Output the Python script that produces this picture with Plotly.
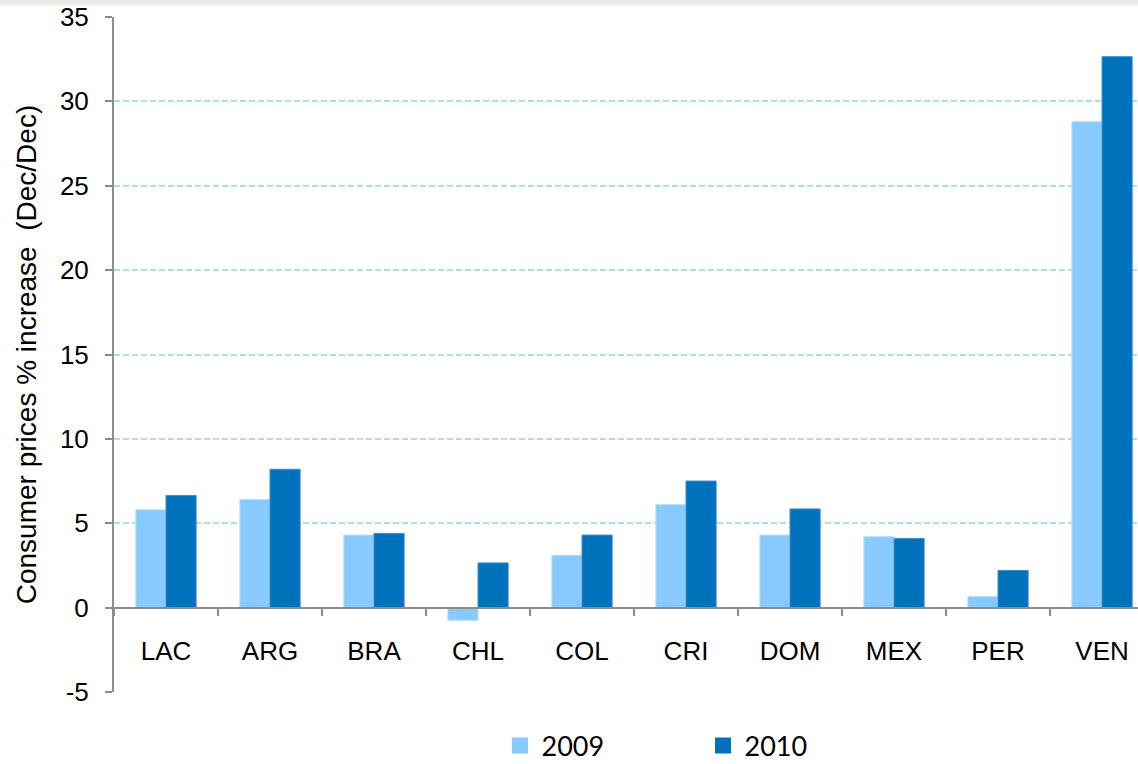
import plotly.graph_objects as go

categories = ["LAC", "ARG", "BRA", "CHL", "COL", "CRI", "DOM", "MEX", "PER", "VEN"]
values_2009 = [5.8, 6.4, 4.3, -0.75, 3.1, 6.1, 4.3, 4.2, 0.65, 28.8]
values_2010 = [6.65, 8.2, 4.4, 2.65, 4.3, 7.5, 5.85, 4.1, 2.2, 32.65]
series_names = ["2009", "2010"]
y_ticks = [-5, 0, 5, 10, 15, 20, 25, 30, 35]

light = "#87CAFE"
dark = "#0071BB"

fig = go.Figure()
fig.add_trace(go.Bar(x=categories, y=values_2009, name=series_names[0],
                     marker=dict(color=light, line=dict(color="#B5DDFD", width=1)),
                     showlegend=False))
fig.add_trace(go.Bar(x=categories, y=values_2010, name=series_names[1],
                     marker=dict(color=dark, line=dict(color="#3D8ECF", width=1)),
                     showlegend=False))
# legend entries with larger square swatches
for nm, col in zip(series_names, [light, dark]):
    fig.add_trace(go.Scatter(x=[None], y=[None], mode="markers", name=nm,
                             marker=dict(symbol="square", size=18, color=col)))

W, H = 1138, 764
ml, mt, mb = 114, 16.5, 72
plot_w = W - ml
plot_h = H - mt - mb

fig.update_layout(
    width=W, height=H,
    margin=dict(l=ml, r=0, t=mt, b=mb, pad=0, autoexpand=False),
    paper_bgcolor="white", plot_bgcolor="white",
    barmode="group", bargap=0.42, bargroupgap=0,
    font=dict(family="Liberation Sans, Arial, sans-serif", color="black"),
    showlegend=True,
    legend=dict(orientation="h", xanchor="left", yanchor="middle",
                x=(498.5 - ml) / plot_w, y=-(746 - (H - mb)) / plot_h,
                entrywidth=155, entrywidthmode="pixels", itemwidth=33,
                font=dict(family="Lato, Carlito, sans-serif", size=27, color="black"),
                bgcolor="rgba(0,0,0,0)", itemsizing="trace"),
    xaxis=dict(type="category", range=[-0.5, 9.346], anchor="free", position=5 / 40,
               automargin=False,
               showline=True, linecolor="#8C8C8C", linewidth=2,
               ticks="outside", tickson="boundaries", ticklen=7, tickwidth=2, tickcolor="#8C8C8C",
               ticklabelstandoff=20, showgrid=False, zeroline=False,
               tickfont=dict(size=26, color="black")),
    yaxis=dict(range=[-5, 35], tickvals=y_ticks, ticktext=[str(v) for v in y_ticks],
               automargin=False,
               showline=True, linecolor="#8C8C8C", linewidth=2,
               ticks="outside", ticklen=7, tickwidth=2, tickcolor="#8C8C8C",
               ticklabelstandoff=11,
               showgrid=True, gridcolor="#ADDDE2", gridwidth=1.5, griddash="6px,3px",
               zeroline=False,
               tickfont=dict(size=26, color="black"),
               title=dict(text="Consumer prices % increase  (Dec/Dec)",
                          font=dict(size=28, color="black"), standoff=15)),
    shapes=[dict(type="rect", xref="paper", yref="paper",
                 x0=-ml / plot_w, x1=1.0, y0=1 + (mt - 5) / plot_h, y1=1 + mt / plot_h + 0.01,
                 fillcolor="#EBEBEB", line=dict(width=0), layer="below")],
)

fig.write_html("out.html", config={"displayModeBar": False},
               post_script="document.body.style.margin='0';document.body.style.overflow='hidden';")
